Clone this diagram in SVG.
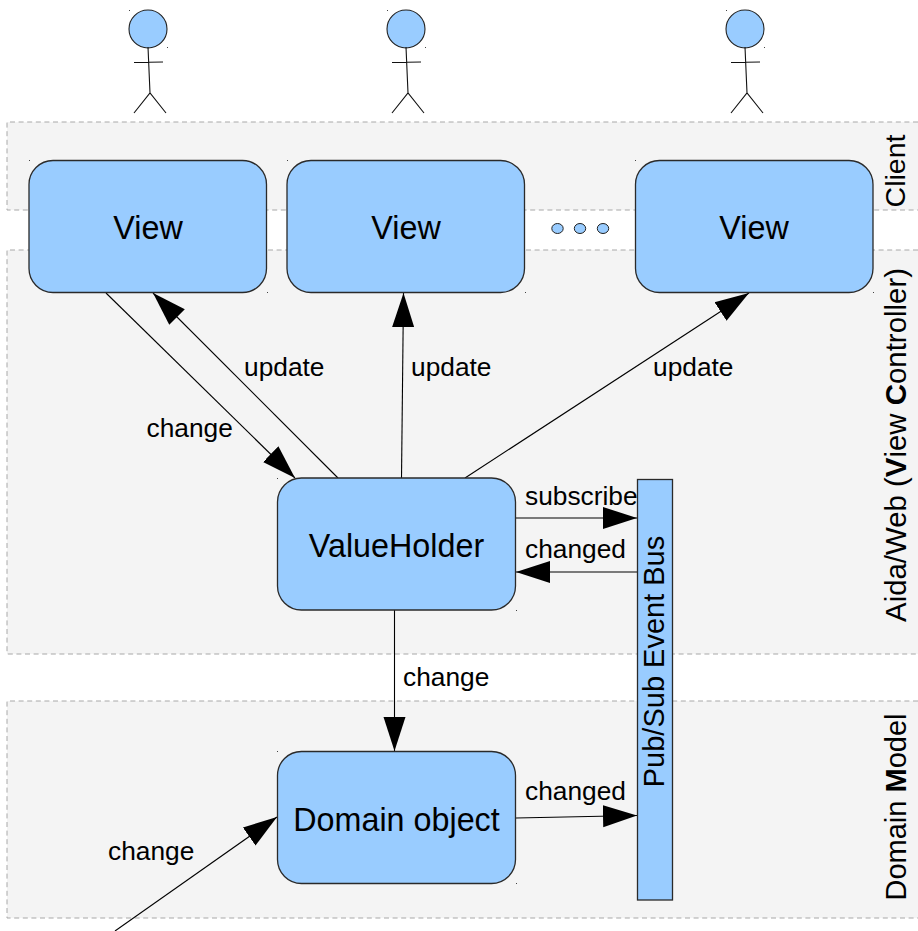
<svg xmlns="http://www.w3.org/2000/svg" width="918" height="931" viewBox="0 0 918 931">
<style>
text{font-family:"Liberation Sans",Arial,sans-serif;fill:#000}
.region{fill:#f4f4f4;stroke:#a8a8a8;stroke-width:1;stroke-dasharray:5 3.600}
.box{fill:#99ccff;stroke:#2a2a2a;stroke-width:1.300}
.big{font-size:32.300px;text-anchor:middle}
.lbl{font-size:26.300px}
.side{font-size:29px;text-anchor:middle}
.aida{font-size:29.400px}
.client{font-size:28.500px}
.conn line{stroke:#000;stroke-width:1.100;fill:none;marker-end:url(#arrow)}
.actor circle{fill:#99ccff;stroke:#222;stroke-width:1.100}
.actor path{fill:none;stroke:#111;stroke-width:1.100}
.dot{fill:#99ccff;stroke:#222;stroke-width:1}
.speck{fill:#444}
</style>
<defs>
<marker id="arrow" markerUnits="userSpaceOnUse" markerWidth="36" markerHeight="24" refX="34" refY="12" orient="auto">
<path d="M0 1L34 12L0 23Z" fill="#000"/>
</marker>
</defs>
<rect width="918" height="931" fill="#fff"/>
<g id="regions">
<path class="region" d="M918 122H7V210H918"/>
<path class="region" d="M918 250H7V654H918"/>
<path class="region" d="M918 701H7V918H918"/>
</g>
<g id="actor1" class="actor"><circle cx="148" cy="29" r="19"/><path d="M148 47L150 93M134 62.500L163 62M134 113L150 93L166 113"/></g>
<g id="actor2" class="actor"><circle cx="406" cy="29" r="19"/><path d="M406 47L408 93M392 62.500L421 62M392 113L408 93L424 113"/></g>
<g id="actor3" class="actor"><circle cx="745" cy="29" r="19"/><path d="M745 47L747 93M731 62.500L760 62M731 113L747 93L763 113"/></g>
<g id="connectors" class="conn">
<line x1="106" y1="293" x2="295" y2="478"/>
<line x1="338" y1="478" x2="153" y2="293"/>
<line x1="401.500" y1="478" x2="403.500" y2="293"/>
<line x1="465" y1="478" x2="749" y2="293"/>
<line x1="516" y1="518" x2="637" y2="518"/>
<line x1="637" y1="572" x2="516" y2="572"/>
<line x1="394.500" y1="610" x2="394.500" y2="751"/>
<line x1="516" y1="818" x2="637" y2="815.500"/>
<line x1="115" y1="931" x2="277" y2="817"/>
</g>
<g id="view1"><rect class="box" x="29" y="160.500" width="237.500" height="132" rx="24"/><text class="big" x="148" y="239">View</text></g>
<g id="view2"><rect class="box" x="287" y="160.500" width="237.500" height="132" rx="24"/><text class="big" x="406" y="239">View</text></g>
<g id="view3"><rect class="box" x="635.500" y="160.500" width="237.500" height="132" rx="24"/><text class="big" x="754" y="239">View</text></g>
<g id="ellipsis"><ellipse class="dot" cx="557.500" cy="228.500" rx="5.700" ry="5"/><ellipse class="dot" cx="580" cy="228.500" rx="5.700" ry="5"/><ellipse class="dot" cx="603" cy="228.500" rx="5.700" ry="5"/></g>
<g id="valueholder"><rect class="box" x="277.500" y="478" width="238" height="132" rx="24"/><text class="big" x="396.500" y="557">ValueHolder</text></g>
<g id="domainobject"><rect class="box" x="277.500" y="751.500" width="238" height="132" rx="24"/><text class="big" x="396.500" y="831">Domain object</text></g>
<g id="bus"><rect class="box" x="637.500" y="479.500" width="35" height="420.500"/><text class="side" transform="translate(664 661.500) rotate(-90)">Pub/Sub Event Bus</text></g>
<g id="labels">
<text class="lbl" x="146.500" y="437">change</text>
<text class="lbl" x="244" y="376">update</text>
<text class="lbl" x="411" y="376">update</text>
<text class="lbl" x="653" y="376">update</text>
<text class="lbl" x="525" y="505">subscribe</text>
<text class="lbl" x="525" y="558">changed</text>
<text class="lbl" x="403" y="686">change</text>
<text class="lbl" x="525" y="800">changed</text>
<text class="lbl" x="108" y="860">change</text>
<text class="side client" transform="translate(905 171) rotate(-90)">Client</text>
<text class="side aida" transform="translate(906 445) rotate(-90)">Aida/Web (<tspan font-weight="bold">V</tspan>iew <tspan font-weight="bold">C</tspan>ontroller)</text>
<text class="side" transform="translate(906 807) rotate(-90)">Domain <tspan font-weight="bold">M</tspan>odel</text>
</g>
<path id="corner-marks" class="speck" d="M129 10h1v1h-1zM167 47h1v1h-1zM387 10h1v1h-1zM425 47h1v1h-1zM726 10h1v1h-1zM764 47h1v1h-1zM29 160h1v1h-1zM267 292h1v1h-1zM287 160h1v1h-1zM525 292h1v1h-1zM635 160h1v1h-1zM873 292h1v1h-1zM277 478h1v1h-1zM516 610h1v1h-1zM277 751h1v1h-1zM516 883h1v1h-1z"/>
</svg>
